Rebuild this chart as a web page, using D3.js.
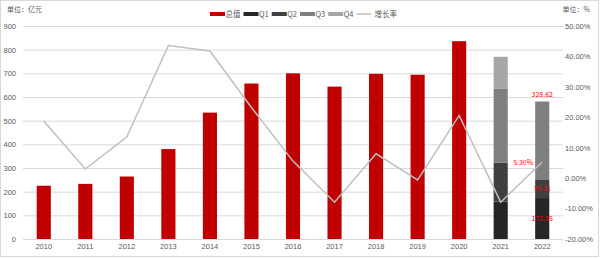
<!DOCTYPE html>
<html>
<head>
<meta charset="utf-8">
<script src="https://cdn.jsdelivr.net/npm/d3@7"></script>
<style>
  body { margin: 0; background: #fff; }
  svg { display: block; font-family: "Noto Sans CJK SC", "Noto Sans", sans-serif; }
</style>
</head>
<body>
<div id="chart"></div>
<script>
// data
const years = ["2010", "2011", "2012", "2013", "2014", "2015", "2016", "2017", "2018", "2019", "2020", "2021", "2022"];
const totals = [225, 233, 264, 380, 534, 657, 700, 644, 698, 694, 836, null, null];
const q1 = [null, null, null, null, null, null, null, null, null, null, null, 158, 172.95];
const q2 = [null, null, null, null, null, null, null, null, null, null, null, 165, 79.31];
const q3 = [null, null, null, null, null, null, null, null, null, null, null, 313, 328.62];
const q4 = [null, null, null, null, null, null, null, null, null, null, null, 134, 0];
const growth = [18.8, 3.0, 13.6, 43.6, 41.8, 23.2, 5.6, -7.9, 8.0, -0.6, 20.6, -7.9, 5.3];
const leftTicks = [0, 100, 200, 300, 400, 500, 600, 700, 800, 900];
const rightTicks = [-20, -10, 0, 10, 20, 30, 40, 50];

const width = 600, height = 259;
const marginLeft = 23, marginRight = 37, marginTop = 26, marginBottom = 20;
const textColor = "#595959";
const fontSize = "7.5px";

const svg = d3.select("#chart").append("svg")
    .attr("width", width)
    .attr("height", height)
    .attr("viewBox", [0, 0, width, height]);

// outer frame
svg.append("rect")
    .attr("x", 0.5).attr("y", 0.5)
    .attr("width", width - 2).attr("height", height - 3)
    .attr("fill", "#fff")
    .attr("stroke", "#d9d9d9");

const x = d3.scaleBand().domain(years).range([marginLeft, width - marginRight]);
const y = d3.scaleLinear().domain([0, 900]).range([height - marginBottom, marginTop]);
const y2 = d3.scaleLinear().domain([-20, 50]).range([height - marginBottom, marginTop]);
const barW = x.bandwidth() * 0.34;

// grid + left axis
svg.append("g")
    .attr("transform", `translate(${marginLeft},0)`)
    .call(d3.axisLeft(y).tickValues(leftTicks).tickSize(-(width - marginLeft - marginRight)).tickPadding(7))
    .call(g => g.select(".domain").remove())
    .call(g => g.selectAll(".tick line").attr("stroke", "#d9d9d9"))
    .call(g => g.selectAll(".tick text").attr("fill", textColor).style("font-size", fontSize));

// right axis
svg.append("g")
    .attr("transform", `translate(${width - marginRight},0)`)
    .call(d3.axisRight(y2).tickValues(rightTicks).tickSize(0).tickPadding(2).tickFormat(d => d.toFixed(2) + "%"))
    .call(g => g.select(".domain").remove())
    .call(g => g.selectAll(".tick text").attr("fill", textColor).style("font-size", fontSize));

// bottom axis
svg.append("g")
    .attr("transform", `translate(0,${height - marginBottom})`)
    .call(d3.axisBottom(x).tickSize(0).tickPadding(5))
    .call(g => g.select(".domain").remove())
    .call(g => g.selectAll(".tick text").attr("fill", textColor).style("font-size", fontSize));

// total bars
svg.append("g")
    .attr("fill", "#c00000")
    .selectAll("rect")
    .data(years.map((yr, i) => ({yr, v: totals[i]})).filter(d => d.v != null))
    .join("rect")
    .attr("x", d => x(d.yr) + (x.bandwidth() - barW) / 2)
    .attr("y", d => y(d.v))
    .attr("width", barW)
    .attr("height", d => y(0) - y(d.v));

// stacked quarter bars
const quarterColors = ["#262626", "#404040", "#7f7f7f", "#a6a6a6"];
const quarterRows = years.map((yr, i) => ({yr, Q1: q1[i], Q2: q2[i], Q3: q3[i], Q4: q4[i]}))
    .filter(d => d.Q1 != null);
const stack = d3.stack().keys(["Q1", "Q2", "Q3", "Q4"])(quarterRows);

svg.append("g")
    .selectAll("g")
    .data(stack)
    .join("g")
    .attr("fill", (d, i) => quarterColors[i])
    .selectAll("rect")
    .data(d => d)
    .join("rect")
    .attr("x", d => x(d.data.yr) + (x.bandwidth() - barW) / 2)
    .attr("y", d => y(d[1]))
    .attr("width", barW)
    .attr("height", d => y(d[0]) - y(d[1]));

// growth line
const line = d3.line()
    .x((d, i) => x(years[i]) + x.bandwidth() / 2)
    .y(d => y2(d));

svg.append("path")
    .attr("fill", "none")
    .attr("stroke", "#bfbfbf")
    .attr("stroke-width", 1.5)
    .attr("d", line(growth));

// data labels for the last year
const last = years.length - 1;
const cx = x(years[last]) + x.bandwidth() / 2;
const labels = svg.append("g")
    .attr("fill", "#ff0000")
    .style("font-size", "7px")
    .attr("text-anchor", "middle");
labels.append("text")
    .attr("x", cx).attr("y", y(q1[last] + q2[last] + q3[last]) - 5)
    .text(q3[last].toFixed(2));
labels.append("text")
    .attr("x", cx).attr("y", y(q1[last] + q2[last] / 2) + 2.5)
    .text(q2[last].toFixed(2));
labels.append("text")
    .attr("x", cx).attr("y", y(q1[last] / 2) + 2.5)
    .text(q1[last].toFixed(2));
labels.append("text")
    .attr("x", cx - 9).attr("y", y2(growth[last]) + 2.5)
    .attr("text-anchor", "end")
    .text(growth[last].toFixed(2) + "%");

// unit labels
svg.append("text")
    .attr("x", 7).attr("y", 12)
    .attr("fill", textColor).style("font-size", "7px")
    .text("单位：亿元");
svg.append("text")
    .attr("x", 590).attr("y", 12)
    .attr("text-anchor", "end")
    .attr("fill", textColor).style("font-size", "7px")
    .text("单位：%");

// legend
const legendItems = [
  {name: "总值", color: "#c00000", type: "rect"},
  {name: "Q1", color: quarterColors[0], type: "rect"},
  {name: "Q2", color: quarterColors[1], type: "rect"},
  {name: "Q3", color: quarterColors[2], type: "rect"},
  {name: "Q4", color: quarterColors[3], type: "rect"},
  {name: "增长率", color: "#bfbfbf", type: "line"}
];
const legend = svg.append("g").attr("transform", "translate(210,14)");
let lx = 0;
legendItems.forEach(item => {
  const g = legend.append("g").attr("transform", `translate(${lx},0)`);
  if (item.type === "rect") {
    g.append("rect").attr("x", 0).attr("y", -2).attr("width", 15).attr("height", 4).attr("fill", item.color);
  } else {
    g.append("line").attr("x1", 0).attr("x2", 15).attr("y1", 0).attr("y2", 0)
        .attr("stroke", item.color).attr("stroke-width", 1.5);
  }
  const t = g.append("text")
      .attr("x", item.type === "rect" ? 15.5 : 18).attr("y", 2.5)
      .attr("fill", textColor).style("font-size", fontSize)
      .text(item.name);
  lx += (item.type === "rect" ? 15.5 : 18) + t.node().getComputedTextLength() + 3;
});
</script>
</body>
</html>
